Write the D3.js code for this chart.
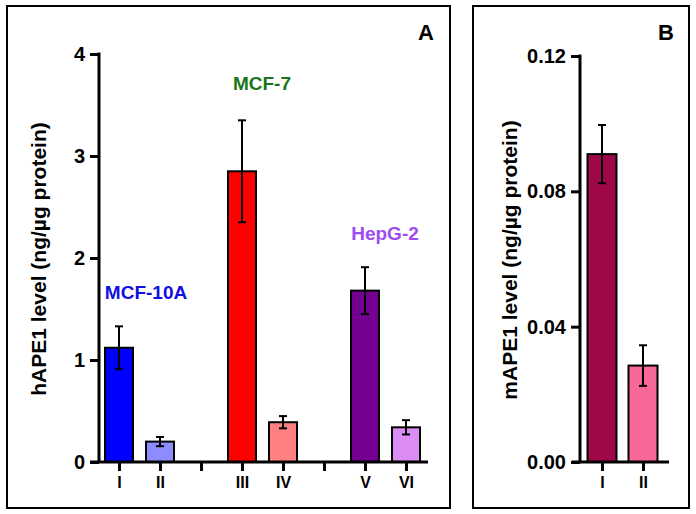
<!DOCTYPE html>
<html>
<head>
<meta charset="utf-8">
<script src="https://cdn.jsdelivr.net/npm/d3@7"></script>
<style>
  html, body { margin: 0; padding: 0; background: #fff; }
  svg { display: block; font-family: "Liberation Sans", Arial, sans-serif; font-weight: bold; }
</style>
</head>
<body>
<svg id="chart" width="696" height="514"></svg>
<script>
// ---- Data (panel A) ----
const catsA = ["I", "II", "g1", "III", "IV", "g2", "V", "VI"];
const barCatsA = ["I", "II", "III", "IV", "V", "VI"];
const valuesA = [1.12, 0.20, 2.85, 0.39, 1.68, 0.34];
const errorsA = [0.21, 0.045, 0.50, 0.06, 0.23, 0.07];
const colorsA = ["#0000ff", "#8c8cff", "#ff0000", "#ff8080", "#730090", "#dc8cf5"];
const ticksA = [0, 1, 2, 3, 4];
const groupLabels = ["MCF-10A", "MCF-7", "HepG-2"];
const groupLabelColors = ["#1010e0", "#1a751a", "#a04af0"];
const groupLabelY = [1.6, 3.65, 2.18];           // label baseline in data units
// ---- Data (panel B) ----
const catsB = ["I", "II"];
const valuesB = [0.091, 0.0285];
const errorsB = [0.0086, 0.006];
const colorsB = ["#9e0848", "#f76896"];
const ticksB = [0, 0.04, 0.08, 0.12];

const svg = d3.select("#chart");

// panel frames
svg.append("rect").attr("x", 7).attr("y", 6).attr("width", 443).attr("height", 502)
  .attr("fill", "none").attr("stroke", "#000").attr("stroke-width", 2);
svg.append("rect").attr("x", 473).attr("y", 6).attr("width", 216).attr("height", 502)
  .attr("fill", "none").attr("stroke", "#000").attr("stroke-width", 2);

function styleAxis(g, fontSize) {
  g.selectAll("path.domain").attr("stroke", "#000").attr("stroke-width", 3);
  g.selectAll(".tick line").attr("stroke", "#000").attr("stroke-width", 3);
  g.selectAll(".tick text").attr("fill", "#000")
    .style("font-family", '"Liberation Sans", Arial, sans-serif')
    .style("font-weight", "bold").style("font-size", fontSize + "px");
}

function drawPanel(opts) {
  const { cats, barCats, values, errors, colors, ticks, yDomain, yRange, xRange,
          xAxisStart, xAxisEnd, yAxisX, tickFmt, barW, xTickLabels } = opts;
  const y = d3.scaleLinear().domain(yDomain).range(yRange);
  const x = d3.scalePoint().domain(cats).range(xRange);

  // bars
  svg.append("g").selectAll("rect").data(barCats).join("rect")
    .attr("x", d => x(d) - barW / 2)
    .attr("y", (d, i) => y(values[i]))
    .attr("width", barW)
    .attr("height", (d, i) => y(0) - y(values[i]))
    .attr("fill", (d, i) => colors[i])
    .attr("stroke", "#000").attr("stroke-width", 2);

  // error bars
  const eg = svg.append("g").attr("stroke", "#000").attr("stroke-width", 2);
  barCats.forEach((d, i) => {
    const cx = x(d), t = y(values[i] + errors[i]), b = y(values[i] - errors[i]);
    eg.append("line").attr("x1", cx).attr("x2", cx).attr("y1", t).attr("y2", b);
    eg.append("line").attr("x1", cx - 4).attr("x2", cx + 4).attr("y1", t).attr("y2", t);
    eg.append("line").attr("x1", cx - 4).attr("x2", cx + 4).attr("y1", b).attr("y2", b);
  });

  // y axis
  const yAxis = svg.append("g").attr("transform", `translate(${yAxisX},0)`)
    .call(d3.axisLeft(y).tickValues(ticks).tickFormat(tickFmt).tickSize(9).tickSizeOuter(0).tickPadding(5));
  styleAxis(yAxis, 20);
  yAxis.select("path.domain").attr("d", `M0,${y(yDomain[1]) - 1.5}V${y(0)}`);

  // x axis
  const xAxis = svg.append("g").attr("transform", `translate(0,${y(0)})`)
    .call(d3.axisBottom(x).tickFormat(d => xTickLabels.includes(d) ? d : "").tickSize(9).tickSizeOuter(0).tickPadding(6));
  styleAxis(xAxis, 16);
  xAxis.select("path.domain").attr("d", `M${xAxisStart},0H${xAxisEnd}`);
  return { x, y };
}

const A = drawPanel({
  cats: catsA, barCats: barCatsA, values: valuesA, errors: errorsA, colors: colorsA,
  ticks: ticksA, yDomain: [0, 4], yRange: [462, 54], xRange: [119, 406],
  xAxisStart: 90, xAxisEnd: 428, yAxisX: 99, tickFmt: d3.format("d"), barW: 28,
  xTickLabels: barCatsA
});

const B = drawPanel({
  cats: catsB, barCats: catsB, values: valuesB, errors: errorsB, colors: colorsB,
  ticks: ticksB, yDomain: [0, 0.12], yRange: [462, 56], xRange: [602, 643],
  xAxisStart: 572, xAxisEnd: 669, yAxisX: 580, tickFmt: d3.format(".2f"), barW: 29,
  xTickLabels: catsB
});

// group labels
const labelX = [146, 262, 385];
groupLabels.forEach((t, i) => {
  svg.append("text").attr("x", labelX[i]).attr("y", A.y(groupLabelY[i]))
    .attr("text-anchor", "middle").attr("fill", groupLabelColors[i])
    .style("font-size", "19px").text(t);
});

// panel letters
svg.append("text").attr("x", 426).attr("y", 40).attr("text-anchor", "middle")
  .style("font-size", "22px").text("A");
svg.append("text").attr("x", 666).attr("y", 40).attr("text-anchor", "middle")
  .style("font-size", "22px").text("B");

// y axis titles
svg.append("text").attr("transform", "translate(46,259) rotate(-90)")
  .attr("text-anchor", "middle").style("font-size", "21px")
  .text("hAPE1 level (ng/µg protein)");
svg.append("text").attr("transform", "translate(517,260) rotate(-90)")
  .attr("text-anchor", "middle").style("font-size", "21px")
  .text("mAPE1 level (ng/µg protein)");
</script>
</body>
</html>
